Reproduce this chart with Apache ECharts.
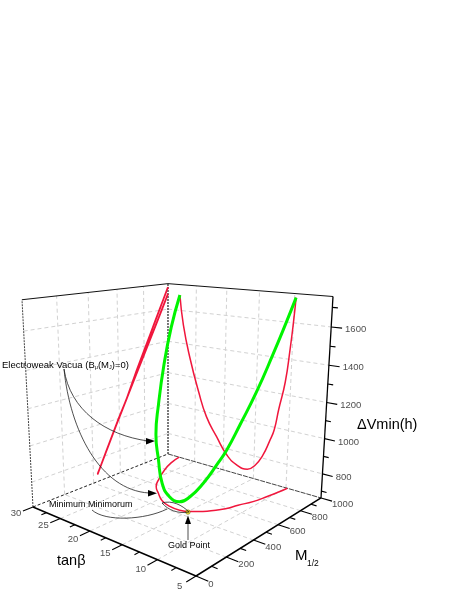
<!DOCTYPE html>
<html><head><meta charset="utf-8">
<style>html,body{margin:0;padding:0;background:#fff}#c{width:457px;height:591px}</style>
<script src="https://cdn.jsdelivr.net/npm/echarts@6/dist/echarts.min.js"></script>
</head><body><div id="c"></div>
<script>
// ---- values (curve parameterised by tan beta) ----
const tanBeta = [27.85,27.2,26.0,24.4,23.0,21.2,19.4,17.7,16.0,14.83,13.67,12.73,12.09,11.55,10.78,10.3,10.0,9.8];
const m12     = [1000,896,781,663,579,516,461,435,431,451,492,544,586,660,743,847,929,1000];
const dVmin   = [1693,1513,1317,1115,971,860,761,715,707,743,817,911,986,1110,1271,1458,1606,1734];
const goldPoint = [14.9,440];
const tanTicks = [5,10,15,20,25,30];
const tanMinor = [7.5,12.5,17.5,22.5,27.5];
const mTicks = [0,200,400,600,800,1000];
const mMinor = [100,300,500,700,900];
const vTicks = [800,1000,1200,1400,1600];
const vMinor = [700,900,1100,1300,1500,1700];
const TAN=[5,30], M=[0,1000], V=[660,1755];

// ---- oblique perspective projection of the 3-D box onto the page ----
function P(t,m,v){
  const u=(t-TAN[0])/(TAN[1]-TAN[0]), w=(m-M[0])/(M[1]-M[0]), h=(v-V[0])/(V[1]-V[0]);
  const D=1+.2409*u+.278*w-.0932*h;
  return [(196-155.05*u+214.24*w-15.7*h)/D,(576+53.1*u+60.4*w-285.1*h)/D];
}
const gap=[NaN,NaN];
const segs=l=>{const o=[];l.forEach(s=>{o.push(s[0],s[1],gap)});return o};
const T0=5,T1=30,M0=0,M1=1000,V0=660,V1=1755;
const dT=25, dM=1000;

const GRID='#d2d2d2';
function line(data,color,width,type,z,smooth){
  return {type:'line',data,symbol:'none',silent:true,smooth:smooth||false,z:z||2,connectNulls:false,
    lineStyle:{color,width,type:type||'solid',cap:'butt',join:'round'}};
}
function labels(items,align,off,size){
  return {type:'scatter',symbolSize:1,silent:true,z:9,itemStyle:{color:'transparent'},
    data:items.map(i=>({value:i.p,name:i.s})),
    label:{show:true,position:'inside',formatter:p=>p.name,align,verticalAlign:'middle',offset:off,
      fontFamily:'Liberation Sans',fontSize:size||9.5,color:'#1a1a1a'}};
}
const tickM=f=>-f*dM, tickT=f=>-f*dT;

const gridFloor=segs([...tanTicks.slice(1,5).map(t=>[P(t,M0,V0),P(t,M1,V0)]),...mTicks.slice(1,5).map(m=>[P(T0,m,V0),P(T1,m,V0)])]);
const gridLeft=segs([...mTicks.slice(1,5).map(m=>[P(T1,m,V0),P(T1,m,V1)]),...vTicks.map(v=>[P(T1,M0,v),P(T1,M1,v)])]);
const gridRight=segs([...tanTicks.slice(1,5).map(t=>[P(t,M1,V0),P(t,M1,V1)]),...vTicks.map(v=>[P(T1,M1,v),P(T0,M1,v)])]);

const ticks=segs([
  ...tanTicks.map(t=>[P(t,M0,V0),P(t,tickM(.06),V0)]),
  ...tanMinor.map(t=>[P(t,M0,V0),P(t,tickM(.03),V0)]),
  ...mTicks.map(m=>[P(T0,m,V0),P(T0+tickT(.06),m,V0)]),
  ...mMinor.map(m=>[P(T0,m,V0),P(T0+tickT(.03),m,V0)]),
  ...vTicks.map(v=>[P(T0,M1,v),P(T0+tickT(.055),M1,v)]),
  ...vMinor.map(v=>[P(T0,M1,v),P(T0+tickT(.028),M1,v)])
]);

const series=[
  line(gridFloor,GRID,1,[4,3],1),line(gridLeft,GRID,1,[4,3],1),line(gridRight,GRID,1,[4,3],1),
  line([P(T1,M0,V1),P(T1,M1,V1),P(T0,M1,V1)],'#111',1,'solid',3),
  line([P(T1,M0,V0),P(T1,M0,V1)],'#444',1,[2,1],3),
  line([P(T1,M1,V0),P(T1,M1,V1)],'#222',1.2,[2,1],3),
  line([P(T1,M0,V0),P(T1,M1,V0)],'#222',1,[3,2],3),
  line([P(T1,M1,V0),P(T0,M1,V0)],'#444',1,[5,1],3),
  line([P(T0,M1,V0),P(T0,M1,V1)],'#000',1.3,'solid',4),
  line([P(T1,M0,V0),P(T0,M0,V0),P(T0,M1,V0)],'#000',1.5,'solid',4),
  line(ticks,'#000',1.1,'solid',4),
  // curve on the floor, on the M=1000 wall, on the tan=30 wall, then the curve itself
  line(tanBeta.map((t,i)=>P(t,m12[i],V0)),'#f0163c',1.5,'solid',5,.5),
  line(tanBeta.map((t,i)=>P(t,M1,dVmin[i])),'#f0163c',1.5,'solid',5,.5),
  line(tanBeta.map((t,i)=>P(T1,m12[i],dVmin[i])),'#f0163c',1.8,'solid',5,.2),
  line(tanBeta.map((t,i)=>P(t,m12[i],dVmin[i])),'#00f400',3,'solid',6,.5),
  {type:'scatter',silent:true,z:8,symbolSize:4.5,data:[P(goldPoint[0],goldPoint[1],V0)],
    itemStyle:{color:'#e6d800',borderColor:'#6b6b10',borderWidth:.7}},
  labels(tanTicks.map(t=>({p:P(t,tickM(.1),V0),s:String(t)})),'center',[0,0]),
  labels(mTicks.map(m=>({p:P(T0+tickT(.06),m,V0),s:String(m)})),'left',[0,3]),
  labels(vTicks.map(v=>({p:P(T0+tickT(.055),M1,v),s:String(v)})),'left',[3,1])
];

const bez=(a,b,c,d,w)=>({type:'bezierCurve',silent:true,z:20,
  shape:{x1:a[0],y1:a[1],cpx1:b[0],cpy1:b[1],cpx2:c[0],cpy2:c[1],x2:d[0],y2:d[1]},
  style:{stroke:'#222',lineWidth:w||.8,fill:null}});
const tri=(p)=>({type:'polygon',silent:true,z:20,shape:{points:p},style:{fill:'#000'}});
const txt=(x,y,text,size,extra)=>({type:'text',silent:true,z:21,x,y,
  style:Object.assign({text,fontFamily:'Liberation Sans',fontSize:size,fill:'#000',verticalAlign:'middle'},extra||{})});

const graphic=[
  bez([64,369],[70,410],[105,435],[148,441]),
  tri([[155,441],[146,438],[146,444.5]]),
  bez([64,369],[70,430],[100,490],[149,493]),
  tri([[157,493.3],[148,490],[148,496.5]]),
  bez([92,510],[105,522],[145,520],[167,509]),
  bez([162,503],[172,500],[182,505],[189,512]),
  bez([189,512],[178,514],[168,510],[162,503]),
  {type:'line',silent:true,z:20,shape:{x1:188,y1:540,x2:188,y2:522},style:{stroke:'#222',lineWidth:.8}},
  tri([[188,515.5],[185,524],[191,524]]),
  txt(2,365,'{a|Electroweak Vacua (B}{s|μ}{a|(M}{s|J}{a|)=0)}',9.5,{rich:{a:{fontFamily:'Liberation Sans',fontSize:9.5,fill:'#000'},s:{fontFamily:'Liberation Sans',fontSize:5.5,fill:'#000',padding:[5,0,0,0]}}}),
  txt(49,505,'Minimum Minimorum',9),
  txt(168,546,'Gold Point',9),
  txt(57,561,'tanβ',14.5),
  txt(357,425,'ΔVmin(h)',14.5),
  txt(295,556,'M',15),
  txt(307,564,'1/2',8.5)
];

const chart=echarts.init(document.getElementById('c'),null,{renderer:'canvas'});
chart.setOption({
  animation:false,backgroundColor:'#fff',
  grid:{left:0,right:0,top:0,bottom:0},
  xAxis:{type:'value',min:0,max:457,show:false},
  yAxis:{type:'value',min:0,max:591,inverse:true,show:false},
  series,graphic
});
</script></body></html>
